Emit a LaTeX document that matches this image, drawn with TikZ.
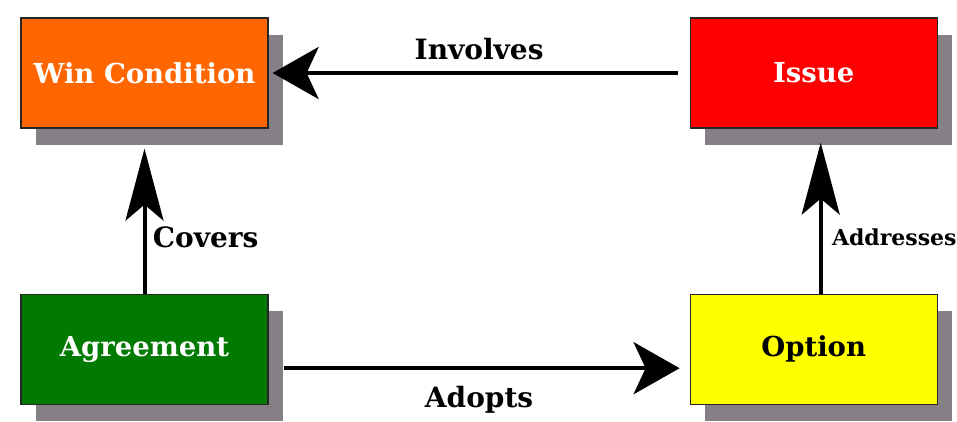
\documentclass[tikz,border=0pt]{standalone}
\usepackage{fontspec}
\setmainfont{DejaVu Serif}
\usetikzlibrary{positioning,arrows.meta,shadows}

\definecolor{wincol}{HTML}{FF6600}
\definecolor{issuecol}{HTML}{FF0000}
\definecolor{agreecol}{HTML}{007A00}
\definecolor{optcol}{HTML}{FFFF00}
\definecolor{shadecol}{HTML}{858085}

\begin{document}
\begin{tikzpicture}[x=1pt, y=-1pt, line width=4pt,
                    box node/.style={rectangle, draw=black!85, line width=1.2pt,
                      minimum width=247pt, minimum height=110pt,
                      font=\fontsize{27.5}{30}\selectfont\bfseries,
                      drop shadow={shadow xshift=15pt, shadow yshift=-17pt,
                        fill=shadecol, opacity=1}},
                    hhead/.style={-{Stealth[length=46pt, width=52pt, inset=12pt]}},
                    vhead/.style={-{Stealth[length=72pt, width=38pt, inset=16pt]}},
                    link label/.style={font=\fontsize{28}{31}\selectfont\bfseries}]

  \useasboundingbox (0,0) rectangle (957,421);

  \node[box node, fill=wincol, text=white] (win) at (144.5,73) {Win Condition};
  \node[box node, fill=issuecol, text=white] (issue) [right=421pt of win] {Issue};
  \node[box node, fill=agreecol, text=white] (agree) [below=165pt of win] {Agreement};
  \node[box node, fill=optcol] (option) [below=165pt of issue] {Option};

  \path[every node/.style={link label}]
    (issue) edge[hhead, shorten <=12pt, shorten >=4pt] node[above=8pt] {Involves} (win)
    (agree) edge[vhead, shorten >=20pt] node[pos=0.34, anchor=west, xshift=3pt] {Covers} (win)
    ([yshift=-19pt]agree.east) edge[hhead, shorten <=15pt, shorten >=10pt]
        node[below=13pt] {Adopts} ([yshift=-19pt]option.west)
    ([xshift=7pt]option.north) edge[vhead, shorten >=14pt]
        node[pos=0.34, anchor=west, xshift=6pt, font=\fontsize{22}{25}\selectfont\bfseries]
        {Addresses} ([xshift=7pt]issue.south);

\end{tikzpicture}
\end{document}
